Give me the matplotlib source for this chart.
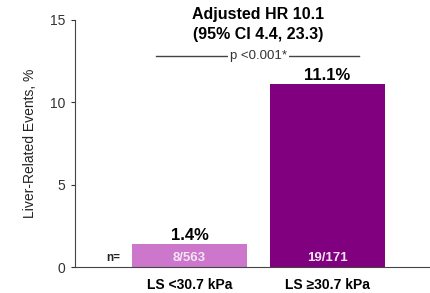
import matplotlib
matplotlib.use("Agg")
import matplotlib.pyplot as plt

categories = ["LS <30.7 kPa", "LS \u226530.7 kPa"]
values = [1.4, 11.1]
value_labels = ["1.4%", "11.1%"]
n_labels = ["8/563", "19/171"]
colors = ["#CC77CC", "#800080"]
yticks = [0, 5, 10, 15]

plt.rcParams['font.family'] = ['Liberation Sans', 'DejaVu Sans']

fig = plt.figure(figsize=(4.31, 2.93), dpi=100)
ax = fig.add_axes([0.174, 0.0887, 0.826, 0.8433])
x = [0, 1]
ax.bar(x, values, width=0.833, color=colors)
ax.set_xlim(-0.83, 1.75)
ax.set_ylim(0, 15)
ax.set_yticks(yticks)
ax.tick_params(axis='y', length=3, labelsize=10, colors='#333333', pad=4)
ax.set_xticks(x)
ax.set_xticklabels(categories, fontweight='bold', fontsize=10)
ax.tick_params(axis='x', length=0, pad=8)
for s in ['top', 'right']:
    ax.spines[s].set_visible(False)
ax.spines['left'].set_color('#444444')
ax.spines['bottom'].set_color('#444444')
ax.set_ylabel("Liver-Related Events, %", fontsize=10, labelpad=9, color='#222222')

for xi, v, lab in zip(x, values, value_labels):
    ax.text(xi, v + 0.27, lab, ha='center', va='baseline', fontsize=12, fontweight='bold')
for xi, lab in zip(x, n_labels):
    ax.text(xi, 0.55, lab, ha='center', va='center', fontsize=9.5, fontweight='bold', color='#F4E4F4')
ax.text(-0.555, 0.55, "n=", ha='center', va='center', fontsize=8.5, fontweight='bold', color='#222222')

ax.plot([-0.24, 1.23], [12.8, 12.8], color='#444444', lw=1, clip_on=False)
ax.text(0.5, 12.8, "p <0.001*", ha='center', va='center', fontsize=9.5, color='#333333',
        bbox=dict(facecolor='white', edgecolor='none', pad=1.5))
ax.text(0.5, 15.3, "Adjusted HR 10.1", ha='center', va='center', fontsize=11.5, fontweight='bold', clip_on=False)
ax.text(0.5, 14.1, "(95% CI 4.4, 23.3)", ha='center', va='center', fontsize=11.5, fontweight='bold', clip_on=False)

fig.savefig("out.png", dpi=100)
